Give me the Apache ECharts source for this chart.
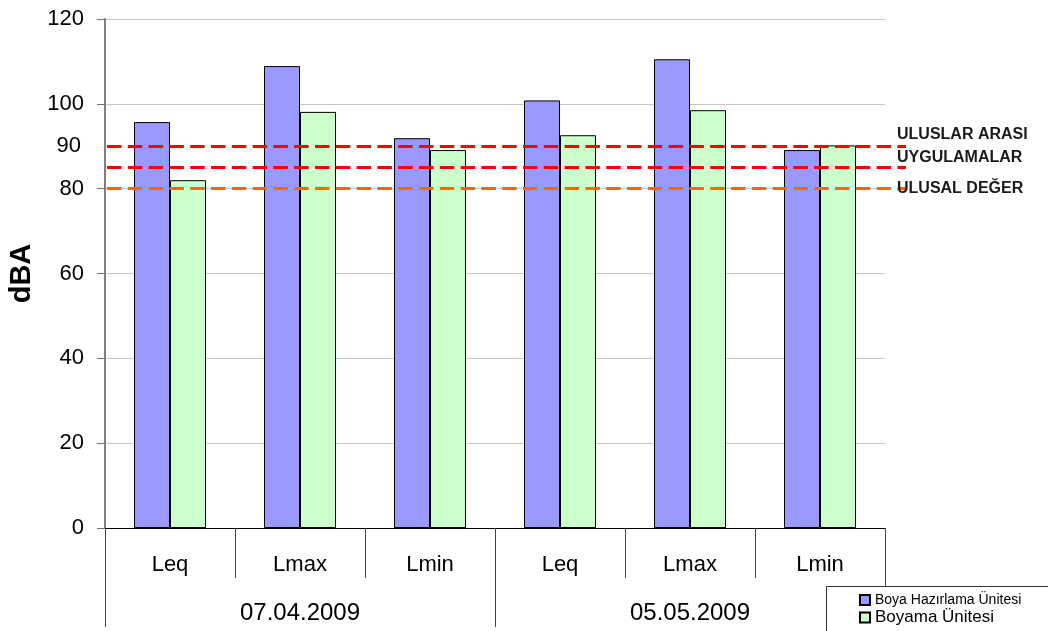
<!DOCTYPE html>
<html>
<head>
<meta charset="utf-8">
<script src="https://cdn.jsdelivr.net/npm/echarts@6/dist/echarts.min.js"></script>
<style>
  html, body { margin: 0; padding: 0; background: #ffffff; }
  #chart { width: 1048px; height: 631px; }
</style>
</head>
<body>
<div id="chart"></div>
<script>
// Noise measurements (dBA) per measure and date
const measures = ['Leq', 'Lmax', 'Lmin', 'Leq', 'Lmax', 'Lmin'];
const dates = ['07.04.2009', '05.05.2009'];
const seriesNames = ['Boya Hazırlama Ünitesi', 'Boyama Ünitesi'];
const boyaHazirlama = [95.7, 108.9, 91.9, 100.8, 110.5, 89.1];
const boyama = [82.0, 98.1, 89.1, 92.6, 98.5, 90.2];

// Value axis ticks
const yMin = 0;
const yMax = 120;
const yStep = 20;
const extraTick = 90;

// Limit lines
const limitValues = [90, 85, 80];
const limitLabels = ['ULUSLAR ARASI\nUYGULAMALAR', '', 'ULUSAL DEĞER'];

// Styles
const FONT = '"Liberation Sans", Arial, sans-serif';
const limitColors = ['#ff0000', '#ff0000', '#ff6600'];
const barColors = ['#9999ff', '#ccffcc'];

const chart = echarts.init(document.getElementById('chart'), null, { renderer: 'canvas' });

const limitLines = limitValues.map((v, i) => [
  {
    xAxis: 0, yAxis: v, x: 107,
    lineStyle: { color: limitColors[i], type: [14.5, 6.3], width: 3 },
    label: {
      show: limitLabels[i] !== '',
      formatter: limitLabels[i],
      position: 'end',
      distance: -9,
      color: '#1a1a1a',
      fontFamily: FONT,
      fontWeight: 'bold',
      fontSize: 16,
      lineHeight: 23
    }
  },
  { xAxis: measures.length - 1, yAxis: v, x: 906 }
]);

const option = {
  animation: false,
  backgroundColor: '#ffffff',
  textStyle: { fontFamily: FONT },
  grid: { left: 105, right: 163, top: 19, bottom: 103, containLabel: false, outerBoundsMode: 'none' },
  xAxis: [
    {
      type: 'category',
      data: measures,
      position: 'bottom',
      boundaryGap: true,
      axisLine: { show: true, onZero: false, lineStyle: { color: '#000000', width: 1 } },
      axisTick: { show: true, interval: 0, length: 50, lineStyle: { color: '#444444', width: 1 } },
      axisLabel: { interval: 0, margin: 26, fontSize: 22, color: '#000000', fontFamily: FONT },
      splitLine: { show: false }
    },
    {
      type: 'category',
      data: dates,
      position: 'bottom',
      boundaryGap: true,
      axisLine: { show: false, onZero: false },
      axisTick: { show: true, interval: 0, length: 99, lineStyle: { color: '#444444', width: 1 } },
      axisLabel: { interval: 0, margin: 73, fontSize: 24, color: '#000000', fontFamily: FONT },
      splitLine: { show: false }
    }
  ],
  yAxis: [
    {
      type: 'value',
      min: yMin,
      max: yMax,
      interval: yStep,
      position: 'left',
      name: 'dBA',
      nameLocation: 'middle',
      nameGap: 67,
      nameTextStyle: { fontSize: 29, fontWeight: 'bold', color: '#000000', fontFamily: FONT },
      axisLine: { show: true, lineStyle: { color: '#808080', width: 2 } },
      axisTick: { show: true, inside: false, length: 8, lineStyle: { color: '#707070', width: 1 } },
      axisLabel: { margin: 21, fontSize: 22, color: '#000000', fontFamily: FONT },
      splitLine: { show: true, lineStyle: { color: '#c6c6c6', width: 1 } }
    },
    {
      type: 'value',
      min: yMin,
      max: yMax,
      interval: 10,
      position: 'left',
      axisLine: { show: false },
      axisTick: { show: false },
      splitLine: { show: false },
      axisLabel: {
        margin: 24, fontSize: 22, color: '#000000', fontFamily: FONT,
        formatter: v => (v === extraTick ? String(v) : '')
      }
    }
  ],
  legend: {
    orient: 'vertical',
    left: 859,
    top: 593,
    padding: 0,
    z: 5,
    itemWidth: 10,
    itemHeight: 10,
    itemGap: 2,
    icon: 'rect',
    data: seriesNames,
    formatter: n => (n === seriesNames[0] ? '{s|' + n + '}' : '{l|' + n + '}'),
    textStyle: {
      color: '#000000',
      fontFamily: FONT,
      rich: {
        s: { fontSize: 14, lineHeight: 16, fontFamily: FONT, color: '#000000' },
        l: { fontSize: 17, lineHeight: 19, fontFamily: FONT, color: '#000000' }
      }
    }
  },
  graphic: [
    {
      type: 'rect',
      z: 3,
      shape: { x: 826.5, y: 586.5, width: 260, height: 60 },
      style: { fill: '#ffffff', stroke: '#333333', lineWidth: 1 }
    }
  ],
  series: [
    {
      name: seriesNames[0],
      type: 'bar',
      xAxisIndex: 0,
      yAxisIndex: 0,
      data: boyaHazirlama,
      barWidth: 36,
      barGap: '0%',
      itemStyle: { color: barColors[0], borderColor: '#000000', borderWidth: 1 },
      markLine: {
        silent: true,
        symbol: 'none',
        animation: false,
        data: limitLines
      }
    },
    {
      name: seriesNames[1],
      type: 'bar',
      xAxisIndex: 0,
      yAxisIndex: 0,
      data: boyama,
      barWidth: 36,
      barGap: '0%',
      itemStyle: { color: barColors[1], borderColor: '#000000', borderWidth: 1 }
    }
  ]
};

chart.setOption(option);
</script>
</body>
</html>
